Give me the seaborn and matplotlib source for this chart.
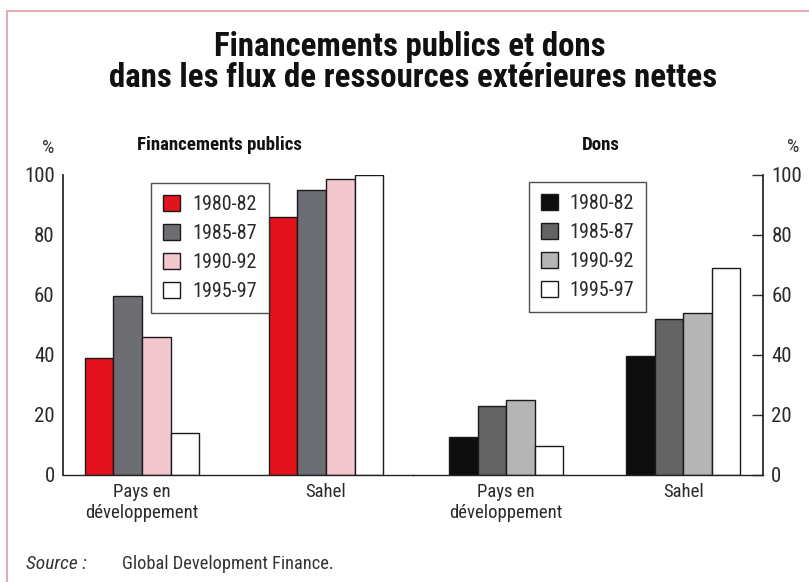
import matplotlib
matplotlib.use("Agg")
import matplotlib.pyplot as plt
from matplotlib.lines import Line2D
import seaborn as sns
import pandas as pd

# ---- data ----
periods = ["1980-82", "1985-87", "1990-92", "1995-97"]
categories = ["Pays en\ndéveloppement", "Sahel"]
fin_pays = [39, 59.5, 46, 14]
fin_sahel = [86, 95, 98.5, 100]
dons_pays = [12.5, 23, 25, 9.5]
dons_sahel = [39.5, 52, 54, 69]
yticks = [0, 20, 40, 60, 80, 100]
title = "Financements publics et dons\ndans les flux de ressources extérieures nettes"

fin_colors = ["#e3121c", "#6d6e73", "#f3c7ce", "#ffffff"]
dons_colors = ["#0d0d0d", "#636363", "#b5b5b5", "#ffffff"]

def frame(pays, sahel):
    return pd.DataFrame({
        "cat": [categories[0]] * 4 + [categories[1]] * 4,
        "period": periods * 2,
        "value": pays + sahel,
    })

sns.set_theme(style="white")
FONT = ["Roboto Condensed", "DejaVu Sans"]
plt.rcParams["font.family"] = FONT

W, H = 809, 582
fig = plt.figure(figsize=(W / 100, H / 100), dpi=100)

def fx(px):
    return px / W

def fy(py):
    return 1 - py / H

ax_bottom, ax_top = 474.5, 174.5
ax1 = fig.add_axes([fx(63), fy(ax_bottom), fx(413 - 63), (ax_bottom - ax_top) / H])
ax2 = fig.add_axes([fx(413), fy(ax_bottom), fx(763 - 413), (ax_bottom - ax_top) / H])

sns.barplot(data=frame(fin_pays, fin_sahel), x="cat", y="value", hue="period",
            hue_order=periods, palette=fin_colors, width=0.624, ax=ax1,
            edgecolor="#1a1a1a", linewidth=1.0, saturation=1)
sns.barplot(data=frame(dons_pays, dons_sahel), x="cat", y="value", hue="period",
            hue_order=periods, palette=dons_colors, width=0.643, ax=ax2,
            edgecolor="#1a1a1a", linewidth=1.0, saturation=1)

ax1.set_xlim(-0.429, 1.473)
ax2.set_xlim(-0.5245, 1.449)

for ax in (ax1, ax2):
    ax.set_ylim(0, 100)
    ax.set_xlabel("")
    ax.set_ylabel("")
    ax.set_facecolor("none")
    ax.set_yticks(yticks)
    ax.tick_params(axis="x", length=0, pad=6, labelsize=13.5, colors="#2a2a2a")
    ax.tick_params(axis="y", direction="in", length=8, width=1, pad=6,
                   labelsize=15, colors="#2a2a2a")
    for lab in ax.get_xticklabels():
        lab.set_linespacing(1.2)
    ax.spines["top"].set_visible(False)
    ax.spines["bottom"].set_color("#222222")
    ax.spines["bottom"].set_linewidth(1.0)

ax1.spines["right"].set_visible(False)
ax1.spines["left"].set_color("#222222")
ax2.spines["left"].set_visible(False)
ax2.spines["right"].set_visible(True)
ax2.spines["right"].set_color("#222222")
ax2.yaxis.tick_right()
ax2.tick_params(axis="y", left=False, right=True, labelleft=False, labelright=True)

# legends
def make_legend(ax, bbox):
    handles, labels = ax.get_legend_handles_labels()
    leg = ax.legend(handles, labels, loc="upper left", bbox_to_anchor=bbox,
                    bbox_transform=fig.transFigure, frameon=True, fontsize=14.5,
                    handlelength=0.85, handleheight=0.85, handletextpad=0.6,
                    labelspacing=0.5, borderpad=0.6, fancybox=False,
                    borderaxespad=0)
    leg.get_frame().set_edgecolor("#222222")
    leg.get_frame().set_linewidth(1.0)
    for t in leg.get_texts():
        t.set_color("#2a2a2a")
    return leg

make_legend(ax1, (fx(151), fy(183)))
make_legend(ax2, (fx(528.5), fy(182)))

# texts
fig.text(fx(410), fy(47), title.split("\n")[0], ha="center", va="center",
         fontsize=23.7, fontweight="bold", color="#111111")
fig.text(fx(413), fy(78), title.split("\n")[1], ha="center", va="center",
         fontsize=23.7, fontweight="bold", color="#111111")
fig.text(fx(219.5), fy(145), "Financements publics", ha="center", va="center",
         fontsize=13.6, fontweight="bold", color="#111111")
fig.text(fx(601), fy(145), "Dons", ha="center", va="center",
         fontsize=13.6, fontweight="bold", color="#111111")
fig.text(fx(48), fy(148), "%", ha="center", va="center", fontsize=14, color="#333333")
fig.text(fx(793), fy(147), "%", ha="center", va="center", fontsize=14, color="#333333")
fig.text(fx(26), fy(564), "Source :", ha="left", va="center", fontsize=14,
         style="italic", color="#333333")
fig.text(fx(122), fy(564), "Global Development Finance.", ha="left", va="center",
         fontsize=13.2, color="#333333")

# decorative border
border = "#e7a1a9"
fig.add_artist(Line2D([fx(7.5), fx(7.5)], [fy(10.5), 0], transform=fig.transFigure,
                      color=border, lw=1.3))
fig.add_artist(Line2D([fx(7.5), 1], [fy(10.5), fy(10.5)], transform=fig.transFigure,
                      color=border, lw=1.3))

fig.savefig("out.png", dpi=100)
